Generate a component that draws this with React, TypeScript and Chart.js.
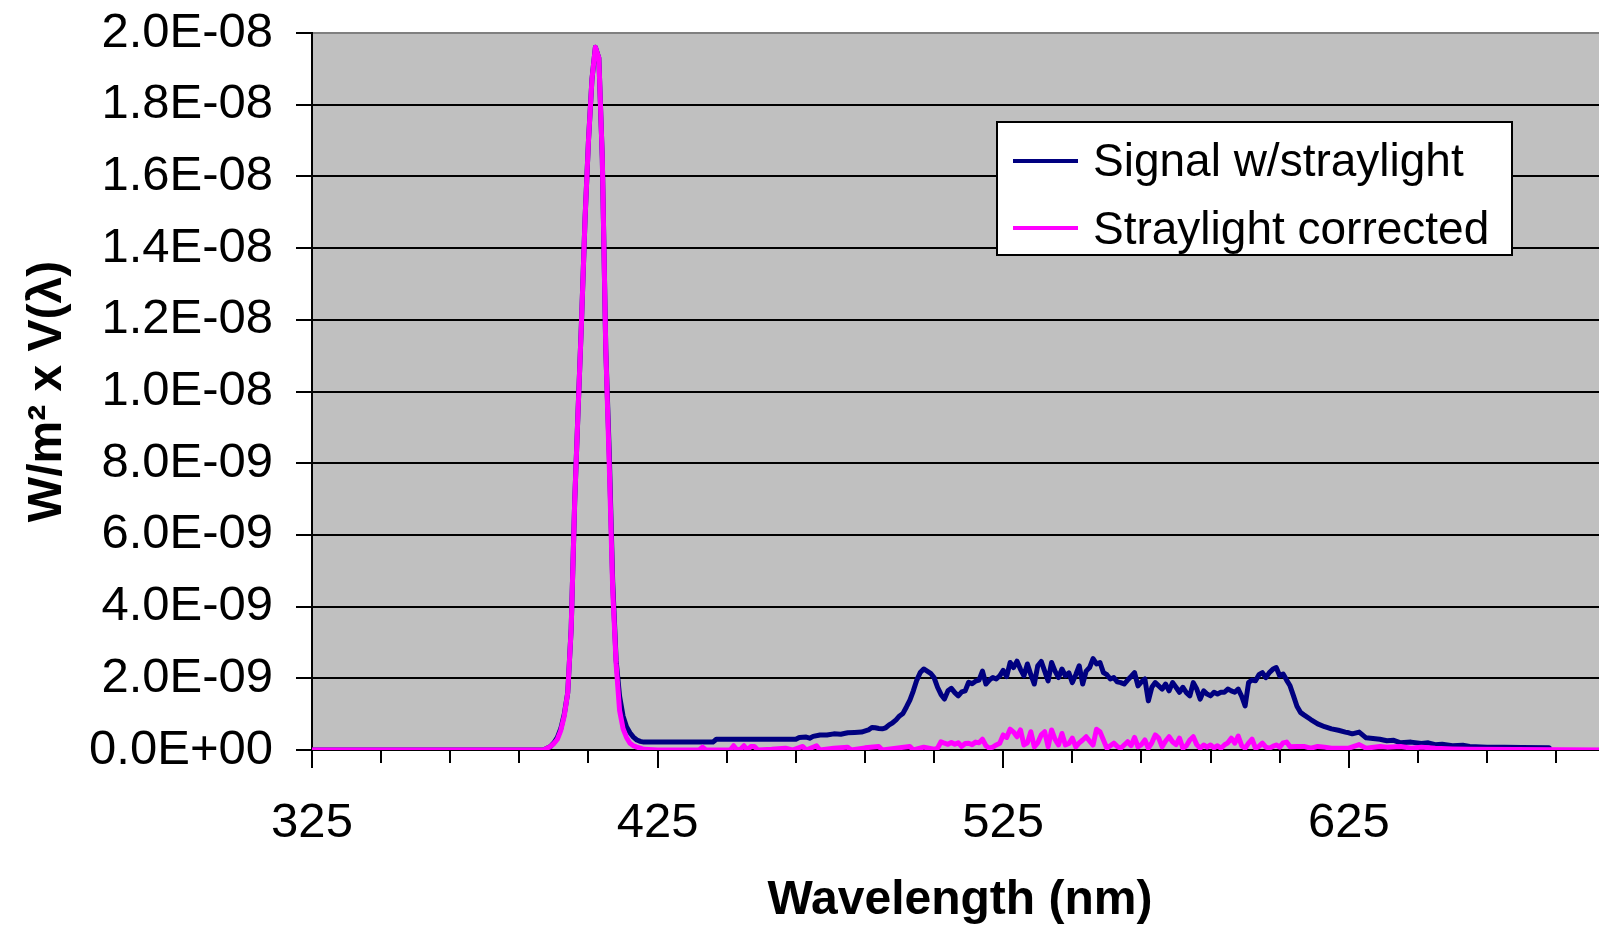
import React, { useEffect, useRef } from "react";
import { Chart, registerables } from "chart.js";

Chart.register(...registerables);

// Wavelength (nm) and irradiance x V(lambda) in units of 1E-09 W/m2
const signalWavelengths = [
  325, 392, 393, 394, 395, 396, 397, 398, 399, 400, 401, 402, 403, 404, 405, 406, 407, 408, 409, 410,
  411, 412, 413, 414, 415, 416, 417, 418, 419, 420, 421, 441, 442, 465, 466, 468, 469, 470, 472, 474,
  476, 478, 480, 482, 484, 486, 487, 488, 489, 490, 491, 492, 493, 494, 495, 496, 497, 498, 499, 500,
  501, 502, 503, 504, 505, 506, 507, 508, 509, 510, 511, 512, 513, 514, 515, 516, 517, 518, 519, 520,
  521, 522, 523, 524, 525, 526, 527, 528, 529, 530, 531, 532, 533, 534, 535, 536, 537, 538, 539, 540,
  541, 542, 543, 544, 545, 546, 547, 548, 549, 550, 551, 552, 553, 554, 555, 556, 557, 558, 559, 560,
  561, 562, 563, 564, 565, 566, 567, 568, 569, 570, 571, 572, 573, 574, 575, 576, 577, 578, 579, 580,
  581, 582, 583, 584, 585, 586, 587, 588, 589, 590, 591, 592, 593, 594, 595, 596, 597, 598, 599, 600,
  601, 602, 603, 604, 605, 606, 607, 608, 609, 610, 611, 612, 614, 616, 618, 620, 622, 624, 625, 626,
  628, 630, 632, 634, 636, 638, 640, 643, 646, 648, 650, 652, 655, 658, 660, 665, 670, 675, 683,
];
const signalValues = [
  0, 0, 0.05, 0.1, 0.2, 0.35, 0.6, 1.0, 1.6, 3.4, 6.9, 9.5, 12.0, 14.8, 17.0, 18.7, 19.6, 19.3, 16.5, 11.2,
  8.3, 4.7, 2.5, 1.5, 0.95, 0.65, 0.48, 0.36, 0.28, 0.24, 0.22, 0.22, 0.3, 0.3, 0.35, 0.36, 0.33, 0.38, 0.42, 0.42,
  0.45, 0.44, 0.48, 0.49, 0.5, 0.56, 0.63, 0.62, 0.6, 0.59, 0.62, 0.7, 0.76, 0.84, 0.95, 1.02, 1.2, 1.39, 1.65, 1.95,
  2.16, 2.26, 2.2, 2.14, 2.02, 1.75, 1.55, 1.42, 1.65, 1.72, 1.6, 1.51, 1.62, 1.65, 1.89, 1.85, 1.92, 1.95, 2.2, 1.84,
  1.95, 2.02, 1.98, 2.07, 2.22, 2.05, 2.44, 2.3, 2.48, 2.25, 2.07, 2.4, 2.1, 1.84, 2.35, 2.47, 2.2, 1.93, 2.44, 2.2,
  2.02, 2.26, 2.07, 2.15, 1.88, 2.1, 2.35, 1.84, 2.2, 2.3, 2.55, 2.4, 2.44, 2.16, 2.1, 1.98, 2.02, 1.9, 1.88, 1.84,
  1.95, 2.05, 2.16, 1.79, 1.9, 1.98, 1.37, 1.75, 1.88, 1.79, 1.7, 1.84, 1.65, 1.88, 1.75, 1.61, 1.75, 1.6, 1.51, 1.88,
  1.7, 1.42, 1.65, 1.56, 1.51, 1.61, 1.56, 1.61, 1.61, 1.7, 1.65, 1.61, 1.7, 1.5, 1.23, 1.88, 1.95, 1.93, 2.1, 2.16,
  2.02, 2.16, 2.25, 2.3, 2.07, 2.12, 1.95, 1.79, 1.51, 1.22, 1.05, 0.98, 0.85, 0.73, 0.65, 0.59, 0.55, 0.5, 0.48, 0.45,
  0.5, 0.34, 0.32, 0.3, 0.26, 0.27, 0.2, 0.22, 0.18, 0.2, 0.15, 0.16, 0.12, 0.13, 0.1, 0.08, 0.08, 0.07, 0.06,
];

const correctedWavelengths = [
  325, 392, 393, 394, 395, 396, 397, 398, 399, 400, 401, 402, 403, 404, 405, 406, 407, 408, 409, 410,
  411, 412, 413, 414, 415, 416, 417, 418, 419, 420, 421, 425, 437, 438, 439, 446, 447, 448, 449, 450,
  451, 452, 453, 454, 458, 462, 464, 467, 468, 471, 472, 476, 480, 481, 485, 489, 490, 494, 498, 499,
  502, 505, 506, 507, 508, 509, 510, 511, 512, 513, 514, 515, 516, 517, 518, 519, 520, 521, 522, 523,
  524, 525, 526, 527, 528, 529, 530, 531, 532, 533, 534, 535, 536, 537, 538, 539, 540, 541, 542, 543,
  544, 545, 546, 547, 548, 549, 550, 551, 552, 553, 554, 555, 556, 557, 558, 559, 560, 561, 562, 563,
  564, 565, 566, 567, 568, 569, 570, 571, 572, 573, 574, 575, 576, 577, 578, 579, 580, 581, 582, 583,
  584, 585, 586, 587, 588, 589, 590, 591, 592, 593, 594, 595, 596, 597, 598, 599, 600, 601, 602, 603,
  604, 605, 606, 607, 608, 610, 612, 614, 616, 618, 620, 622, 625, 628, 630, 634, 636, 640, 643, 646,
  650, 655, 660, 700,
];
const correctedValues = [
  0, 0, 0.05, 0.1, 0.18, 0.3, 0.55, 0.95, 1.6, 3.4, 6.9, 9.5, 12.0, 14.8, 17.0, 18.7, 19.6, 19.3, 16.5, 11.2,
  8.0, 4.5, 2.4, 1.1, 0.6, 0.35, 0.19, 0.12, 0.08, 0.05, 0.02, 0, 0, 0.08, 0, 0, 0.12, 0, 0.02, 0.12,
  0, 0.1, 0.1, 0, 0.02, 0.05, 0, 0.1, 0, 0.12, 0, 0.05, 0.08, 0, 0.06, 0.1, 0, 0.05, 0.1, 0,
  0.08, 0.02, 0.05, 0.23, 0.19, 0.16, 0.21, 0.16, 0.2, 0.1, 0.18, 0.19, 0.15, 0.22, 0.2, 0.3, 0.12, 0.05, 0.08, 0.14,
  0.19, 0.42, 0.35, 0.58, 0.5, 0.37, 0.56, 0.14, 0.2, 0.51, 0.09, 0.2, 0.42, 0.51, 0.09, 0.56, 0.3, 0.14, 0.46, 0.14,
  0.18, 0.33, 0.09, 0.2, 0.28, 0.37, 0.25, 0.14, 0.58, 0.51, 0.28, 0.05, 0.12, 0.19, 0.1, 0.05, 0.14, 0.23, 0.12, 0.35,
  0.09, 0.15, 0.28, 0.05, 0.2, 0.42, 0.33, 0.09, 0.25, 0.37, 0.23, 0.15, 0.33, 0.05, 0.12, 0.28, 0.37, 0.15, 0.05, 0.14,
  0.08, 0.14, 0.06, 0.12, 0.05, 0.14, 0.2, 0.33, 0.19, 0.39, 0.12, 0.05, 0.19, 0.3, 0.05, 0.1, 0.19, 0.08, 0.05, 0.1,
  0.14, 0.08, 0.2, 0.22, 0.09, 0.1, 0.1, 0.05, 0.1, 0.08, 0.05, 0.05, 0.05, 0.15, 0.05, 0.1, 0.08, 0.1, 0.05, 0.08,
  0.05, 0.03, 0.02, 0,
];

const seriesLabels = ["Signal w/straylight", "Straylight corrected"];
const seriesColors = ["#000080", "#FF00FF"];

const yTickValues = [0, 2, 4, 6, 8, 10, 12, 14, 16, 18, 20];
const yTickLabels = [
  "0.0E+00", "2.0E-09", "4.0E-09", "6.0E-09", "8.0E-09", "1.0E-08",
  "1.2E-08", "1.4E-08", "1.6E-08", "1.8E-08", "2.0E-08",
];
const xMajorTicks = [325, 425, 525, 625];
const xLabelTicks = ["325", "425", "525", "625"];
const xMin = 325;
const xMax = 700;
const xMinorStep = 20;

const FONT = "'Liberation Sans', Arial, sans-serif";

const decorPlugin = {
  id: "decor",
  beforeDraw(chart: any) {
    const { ctx, chartArea: a } = chart;
    ctx.save();
    ctx.fillStyle = "#C0C0C0";
    ctx.fillRect(a.left, a.top, a.right - a.left, a.bottom - a.top);
    ctx.restore();
  },
  afterDraw(chart: any) {
    const { ctx, chartArea: a } = chart;
    const xs = chart.scales.x;
    ctx.save();
    ctx.strokeStyle = "#000";
    ctx.lineWidth = 2;
    xMajorTicks.forEach((v) => {
      const px = Math.round(xs.getPixelForValue(v));
      ctx.beginPath();
      ctx.moveTo(px, a.bottom);
      ctx.lineTo(px, a.bottom + 18);
      ctx.stroke();
    });

    // legend
    const bx = 997, by = 122, bw = 515, bh = 133;
    ctx.fillStyle = "#FFFFFF";
    ctx.fillRect(bx, by, bw, bh);
    ctx.strokeStyle = "#000";
    ctx.lineWidth = 2;
    ctx.strokeRect(bx, by, bw, bh);
    const lineRows = [161, 228];
    const textRows = [163, 231];
    chart.data.datasets.forEach((ds: any, i: number) => {
      ctx.strokeStyle = ds.borderColor;
      ctx.lineWidth = 4;
      ctx.beginPath();
      ctx.moveTo(1013, lineRows[i]);
      ctx.lineTo(1078, lineRows[i]);
      ctx.stroke();
      ctx.fillStyle = "#000";
      ctx.font = `46px ${FONT}`;
      ctx.textBaseline = "middle";
      ctx.textAlign = "left";
      ctx.fillText(ds.label, 1093, textRows[i]);
    });
    ctx.restore();
  },
};

export default function App() {
  const ref = useRef<HTMLCanvasElement | null>(null);

  useEffect(() => {
    if (!ref.current) return;
    const toPoints = (xs: number[], ys: number[]) => xs.map((x, i) => ({ x, y: ys[i] }));
    const chart = new Chart(ref.current, {
      type: "line",
      data: {
        datasets: [
          {
            label: seriesLabels[0],
            data: toPoints(signalWavelengths, signalValues),
            borderColor: seriesColors[0],
            backgroundColor: seriesColors[0],
            borderWidth: 5,
            pointRadius: 0,
            tension: 0,
            borderJoinStyle: "round",
            borderCapStyle: "round",
            order: 2,
          },
          {
            label: seriesLabels[1],
            data: toPoints(correctedWavelengths, correctedValues),
            borderColor: seriesColors[1],
            backgroundColor: seriesColors[1],
            borderWidth: 5,
            pointRadius: 0,
            tension: 0,
            borderJoinStyle: "round",
            borderCapStyle: "round",
            order: 1,
          },
        ],
      },
      options: {
        animation: false,
        responsive: false,
        devicePixelRatio: 1,
        layout: { padding: { top: 33, right: 2, left: 0, bottom: 0 } },
        plugins: { legend: { display: false }, tooltip: { enabled: false } },
        scales: {
          x: {
            type: "linear",
            min: xMin,
            max: xMax,
            afterBuildTicks: (scale: any) => {
              const t = [];
              for (let v = xMin; v < xMax; v += xMinorStep) t.push({ value: v });
              scale.ticks = t;
            },
            afterFit: (scale: any) => {
              scale.height = 177;
              scale.paddingLeft = 0;
              scale.paddingRight = 0;
            },
            ticks: {
              autoSkip: false,
              maxRotation: 0,
              padding: 31,
              color: "#000",
              font: { family: FONT, size: 49 },
              callback: (v: any) => {
                const idx = xMajorTicks.indexOf(Math.round(Number(v)));
                return idx >= 0 ? xLabelTicks[idx] : "";
              },
            },
            grid: {
              display: true,
              drawOnChartArea: false,
              drawTicks: true,
              tickLength: 13,
              color: "#000",
              lineWidth: 2,
            },
            border: { display: true, color: "#000", width: 2 },
            title: {
              display: true,
              text: "Wavelength (nm)",
              color: "#000",
              font: { family: FONT, size: 48, weight: "bold", lineHeight: 1.0 },
              padding: { top: 0, bottom: 2 },
            },
          },
          y: {
            type: "linear",
            min: 0,
            max: 20,
            afterBuildTicks: (scale: any) => {
              scale.ticks = yTickValues.map((v) => ({ value: v }));
            },
            afterFit: (scale: any) => {
              scale.width = 312;
              scale.paddingTop = 0;
              scale.paddingBottom = 0;
            },
            ticks: {
              autoSkip: false,
              padding: 23,
              color: "#000",
              font: { family: FONT, size: 49 },
              callback: (v: any) => {
                const idx = yTickValues.indexOf(Math.round(Number(v)));
                return idx >= 0 ? yTickLabels[idx] : "";
              },
            },
            grid: {
              color: (c: any) => (c.tick && c.tick.value === 20 ? "#808080" : "#000"),
              tickColor: "#000",
              lineWidth: 2,
              drawTicks: true,
              tickLength: 16,
            },
            border: { display: true, color: "#000", width: 2 },
            title: {
              display: true,
              text: "W/m² x V(λ)",
              color: "#000",
              font: { family: FONT, size: 48, weight: "bold", lineHeight: 1.2 },
              padding: { top: 19, bottom: 0 },
            },
          },
        },
      },
      plugins: [decorPlugin],
    } as any);
    return () => chart.destroy();
  }, []);

  return (
    <div
      style={{
        position: "fixed",
        left: 0,
        top: 0,
        width: 1599,
        height: 927,
        overflow: "hidden",
        background: "#FFFFFF",
      }}
    >
      <canvas ref={ref} width={1610} height={927} style={{ display: "block", width: 1610, height: 927 }} />
    </div>
  );
}
